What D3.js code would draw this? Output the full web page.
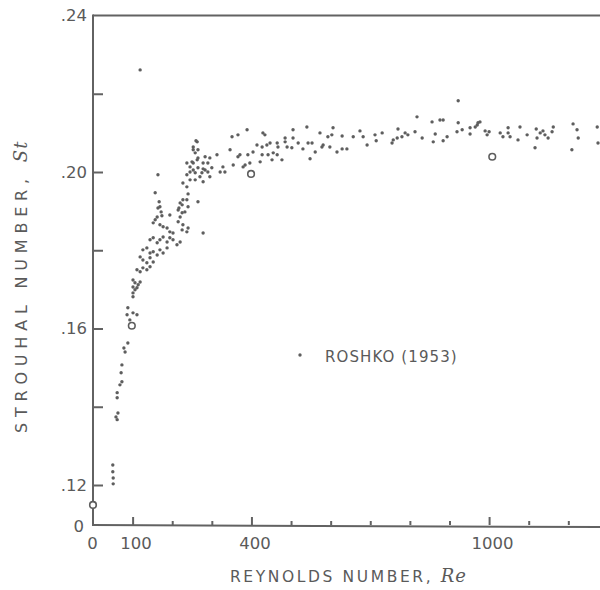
<!DOCTYPE html>
<html>
<head>
<meta charset="utf-8">
<script src="https://cdn.jsdelivr.net/npm/d3@7"></script>
<style>
  html, body { margin: 0; padding: 0; background: #fff; }
  svg { display: block; }
  text { font-family: "DejaVu Sans", sans-serif; fill: #5a5a5a; }
</style>
</head>
<body>
<svg id="chart" width="600" height="590"></svg>
<script>
// ---- data (Reynolds number, Strouhal number) ----
const reynolds = [
  50,50,51,51, 61,61,63,61,58, 68,73,71,73, 81,78,88,
  88,101,111,86,93,
  101,106,101,106,101,111,114,101,119,
  111,119,126,136,144, 119,126,136,144,152,
  126,136,144,152,162,169,177,187,
  144,152,162,169,177,187,194,202,212,220,
  169,177,187,194,202, 227,225,237,240,278,
  194,220,215,232, 162,157,152,
  167,169,172,174,164, 157,164,
  240,237,225,217,265, 220,227,215,225,240, 227,237,
  245,253,263,258,265,253,245,237,275,283,
  263,260,253,237,250,265,283,295,278,290,
  253,265,278,290,300, 258,270,295, 245,258,278,
  313,328,333,346,351,366,354,366,371,384,396,391,404,
  414,427,439,447,434,427,442,455,422,452,465,467,
  389,429,321,379,
  465,477, 485,485,490,502,505,505,
  518,530,540,543,553,548,561,
  573,578,581,593,603,606,598,616,629,629,641,
  657,674,682,692,712,715,730,755,770,768,
  758,780,788,795,813,818,831,856,859,864,876,884,884,894,
  922,922,919,932,952,952,965,970,972,977,
  990,995,1000,1028,1035,1048,1048,1053,1073,1078,1096,1119,1116,1121,1129,1136,1141,1149,1159,1162,
  1212,1222,1225,1209,1273,1275,
  119
];
const strouhal = [
  0.1251,0.1234,0.1218,0.1203, 0.1423,0.1436,0.1384,0.1367,0.1374, 0.1456,0.1464,0.1487,0.1507, 0.1540,0.1550,0.1563,
  0.1653,0.1640,0.1635,0.1635,0.1622,
  0.1724,0.1717,0.1706,0.1699,0.1691,0.1704,0.1712,0.1681,0.1719,
  0.1750,0.1745,0.1755,0.1750,0.1758, 0.1783,0.1775,0.1768,0.1781,0.1770,
  0.1801,0.1806,0.1793,0.1796,0.1788,0.1801,0.1793,0.1806,
  0.1827,0.1832,0.1819,0.1827,0.1834,0.1821,0.1832,0.1827,0.1814,0.1821,
  0.1865,0.1860,0.1857,0.1847,0.1844, 0.1865,0.1852,0.1847,0.1857,0.1844,
  0.1890,0.1885,0.1873,0.1898, 0.1885,0.1878,0.1870,
  0.1924,0.1911,0.1898,0.1888,0.1908, 0.1947,0.1993,
  0.1944,0.1929,0.1916,0.1908,0.1924, 0.1921,0.1929,0.1903,0.1896,0.1911, 0.1972,0.1962,
  0.2013,0.2023,0.2031,0.2049,0.2057,0.2064,0.2000,0.1993,0.1998,0.2005,
  0.2077,0.2080,0.2057,0.2023,0.2026,0.2036,0.2039,0.2036,0.2023,0.2023,
  0.2005,0.2011,0.2008,0.2000,0.2011, 0.1998,0.1988,0.1988, 0.1980,0.1980,0.1975,
  0.2044,0.2013,0.2000,0.2057,0.2090,0.2095,0.2018,0.2039,0.2044,0.2018,0.2023,0.2044,0.2051,
  0.2069,0.2064,0.2069,0.2074,0.2095,0.2044,0.2044,0.2049,0.2026,0.2031,0.2074,0.2064,
  0.2108,0.2100,0.2000,0.2013,
  0.2044,0.2031, 0.2087,0.2077,0.2064,0.2062,0.2108,0.2087,
  0.2074,0.2059,0.2115,0.2074,0.2074,0.2034,0.2051,
  0.2100,0.2064,0.2069,0.2090,0.2095,0.2113,0.2064,0.2051,0.2092,0.2059,0.2059,
  0.2090,0.2105,0.2090,0.2069,0.2095,0.2080,0.2100,0.2074,0.2110,0.2087,
  0.2082,0.2090,0.2100,0.2095,0.2103,0.2141,0.2087,0.2128,0.2077,0.2097,0.2133,0.2133,0.2080,0.2090,
  0.2182,0.2126,0.2103,0.2108,0.2113,0.2097,0.2115,0.2120,0.2126,0.2128,
  0.2105,0.2095,0.2103,0.2100,0.2090,0.2113,0.2100,0.2090,0.2082,0.2115,0.2095,0.2110,0.2062,0.2087,0.2100,0.2105,0.2095,0.2087,0.2103,0.2115,
  0.2123,0.2108,0.2087,0.2057,0.2115,0.2074,
  0.2261
];
// open-circle points
const circleRe = [0, 98, 399, 1008];
const circleSt = [0.1149, 0.1607, 0.1995, 0.2039];

const xTicks = [0,100,200,300,400,500,600,700,800,900,1000,1100,1200];
const xLabels = [0,100,400,1000];
const yTicks = [0.12,0.14,0.16,0.18,0.20,0.22,0.24];
const yLabels = [0.12,0.16,0.20,0.24];
const xTitle = "REYNOLDS NUMBER, ";
const yTitle = "STROUHAL NUMBER, ";
const legendText = "ROSHKO (1953)";

// ---- drawing ----
const svg = d3.select("#chart");
const axisColor = "#626262";
const dotColor = "#5e5e5e";

const x = d3.scaleLinear().domain([0, 1280]).range([93, 600]);
const y = d3.scaleLinear().domain([0.12, 0.24]).range([485, 15.5]);
const yBottom = 525;

// top border
svg.append("line")
  .attr("x1", x(0)).attr("x2", 600)
  .attr("y1", y(0.24)).attr("y2", y(0.24))
  .attr("stroke", axisColor).attr("stroke-width", 2);

// y axis
const yAxis = d3.axisLeft(y)
  .tickValues(yTicks)
  .tickSize(-10)
  .tickPadding(6)
  .tickFormat(d => yLabels.some(v => Math.abs(v - d) < 1e-9) ? d3.format(".2f")(d).replace(/^0/, "") : "");
const gy = svg.append("g").attr("transform", `translate(${x(0)},0)`).call(yAxis);
gy.select(".domain").remove();
gy.selectAll(".tick line").attr("stroke", axisColor).attr("stroke-width", 2)
  .attr("x2", d => Math.abs(d - 0.24) < 1e-9 ? 0 : 10);
gy.selectAll(".tick text").style("font-size", "16.5px").attr("fill", "#5a5a5a").attr("font-family", "DejaVu Sans");
svg.append("line")
  .attr("x1", x(0)).attr("x2", x(0))
  .attr("y1", y(0.24) - 1).attr("y2", yBottom + 1)
  .attr("stroke", axisColor).attr("stroke-width", 2);
// origin label on broken y axis
svg.append("text").attr("x", 84).attr("y", yBottom + 7)
  .attr("text-anchor", "end").style("font-size", "16.5px").text("0");

// x axis
const xAxis = d3.axisBottom(x)
  .tickValues(xTicks)
  .tickSize(-4)
  .tickPadding(12)
  .tickFormat(d => xLabels.includes(d) ? String(d) : "");
const gx = svg.append("g").attr("transform", `translate(0,${yBottom})`).call(xAxis);
gx.select(".domain").remove();
gx.selectAll(".tick line").attr("stroke", axisColor).attr("stroke-width", 2)
  .attr("y2", d => d === 0 ? 0 : (xLabels.includes(d) ? -8 : -4));
gx.selectAll(".tick text").style("font-size", "16.5px").attr("fill", "#5a5a5a").attr("font-family", "DejaVu Sans")
  .attr("dx", d => d === 0 ? -1 : 3);
svg.append("line")
  .attr("x1", x(0) - 1).attr("x2", 600)
  .attr("y1", yBottom).attr("y2", yBottom + 2)
  .attr("stroke", axisColor).attr("stroke-width", 2);

// data dots
const pts = reynolds.map((r, i) => ({ r, s: strouhal[i] }));
svg.append("g").selectAll("circle").data(pts).join("circle")
  .attr("cx", d => x(d.r)).attr("cy", d => y(d.s))
  .attr("r", 1.7).attr("fill", dotColor);

// open circles
const cpts = circleRe.map((r, i) => ({ r, s: circleSt[i] }));
svg.append("g").selectAll("circle").data(cpts).join("circle")
  .attr("cx", d => x(d.r)).attr("cy", d => y(d.s))
  .attr("r", 3.3).attr("fill", "#fff").attr("stroke", dotColor).attr("stroke-width", 1.6);

// legend
svg.append("circle").attr("cx", 300).attr("cy", 355).attr("r", 1.7).attr("fill", dotColor);
svg.append("text").attr("x", 325).attr("y", 362)
  .style("font-size", "15px").style("letter-spacing", "1.1px").text(legendText);

// axis titles
const xt = svg.append("text").attr("x", 230).attr("y", 582)
  .style("font-size", "15.5px").style("letter-spacing", "2.6px");
xt.append("tspan").text(xTitle);
xt.append("tspan").style("font-family", "DejaVu Serif").style("font-style", "italic")
  .style("font-size", "18px").style("letter-spacing", "1px").text("Re");

const yt = svg.append("text")
  .attr("transform", "translate(27,433) rotate(-90)")
  .style("font-size", "16px").style("letter-spacing", "5.8px");
yt.append("tspan").text(yTitle);
yt.append("tspan").style("font-family", "DejaVu Serif").style("font-style", "italic")
  .style("font-size", "18px").style("letter-spacing", "1px").text("St");
</script>
</body>
</html>
